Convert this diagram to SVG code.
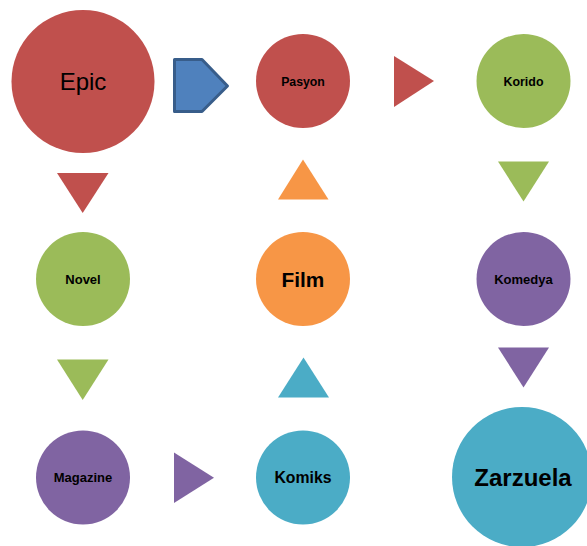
<svg xmlns="http://www.w3.org/2000/svg" width="587" height="546" viewBox="0 0 587 546">
  <style>
    .lbl { font-family: "Liberation Sans", Arial, sans-serif; font-weight: bold; fill: #000; text-anchor: middle; }
    .red { fill: #C0504D; }
    .green { fill: #9BBB59; }
    .purple { fill: #8064A2; }
    .orange { fill: #F79646; }
    .teal { fill: #4BACC6; }
    .chevron { fill: #4F81BD; stroke: #385D8A; stroke-width: 3; stroke-linejoin: round; }
  </style>
  <rect width="587" height="546" fill="#fff"/>

  <!-- arrows between the circles -->
  <g id="connectors">
    <polygon class="chevron" points="174.5,59.5 202,59.5 227.5,86 202,111.5 174.5,111.5"/>
    <polygon class="red" points="394,56 434,81 394,107"/>
    <polygon class="red" points="57,173 108.5,173 82.7,213"/>
    <polygon class="orange" points="278,199.5 328.5,199.5 303,159.5"/>
    <polygon class="green" points="498,161.5 549,161.5 523.5,201.5"/>
    <polygon class="green" points="57,359.5 108.5,359.5 82.7,400"/>
    <polygon class="teal" points="278,397.5 329,397.5 303.5,357.5"/>
    <polygon class="purple" points="498,347.5 549,347.5 523.5,387.5"/>
    <polygon class="purple" points="174,452.5 214,477.7 174,503"/>
  </g>

  <g id="epic">
    <circle class="red" cx="83" cy="81.5" r="71.5"/>
    <text x="83" y="90" font-family="'Liberation Sans', Arial, sans-serif" font-size="24" fill="#000" text-anchor="middle">Epic</text>
  </g>
  <g id="pasyon">
    <circle class="red" cx="303" cy="81" r="47"/>
    <text class="lbl" x="303" y="85.5" font-size="12.3">Pasyon</text>
  </g>
  <g id="korido">
    <circle class="green" cx="523.5" cy="81" r="47"/>
    <text class="lbl" x="523.5" y="85.5" font-size="12.4">Korido</text>
  </g>
  <g id="novel">
    <circle class="green" cx="83" cy="279" r="47"/>
    <text class="lbl" x="83" y="284" font-size="13">Novel</text>
  </g>
  <g id="film">
    <circle class="orange" cx="303" cy="279" r="47"/>
    <text class="lbl" x="303" y="286.5" font-size="20.8">Film</text>
  </g>
  <g id="komedya">
    <circle class="purple" cx="523.5" cy="279" r="47"/>
    <text class="lbl" x="523.5" y="283.5" font-size="13">Komedya</text>
  </g>
  <g id="magazine">
    <circle class="purple" cx="83" cy="477.5" r="47"/>
    <text class="lbl" x="83" y="482" font-size="13">Magazine</text>
  </g>
  <g id="komiks">
    <circle class="teal" cx="303" cy="477.5" r="47"/>
    <text class="lbl" x="303" y="483.3" font-size="15.8">Komiks</text>
  </g>
  <g id="zarzuela">
    <circle class="teal" cx="522" cy="477" r="70"/>
    <text class="lbl" x="523" y="486" font-size="24">Zarzuela</text>
  </g>
</svg>
